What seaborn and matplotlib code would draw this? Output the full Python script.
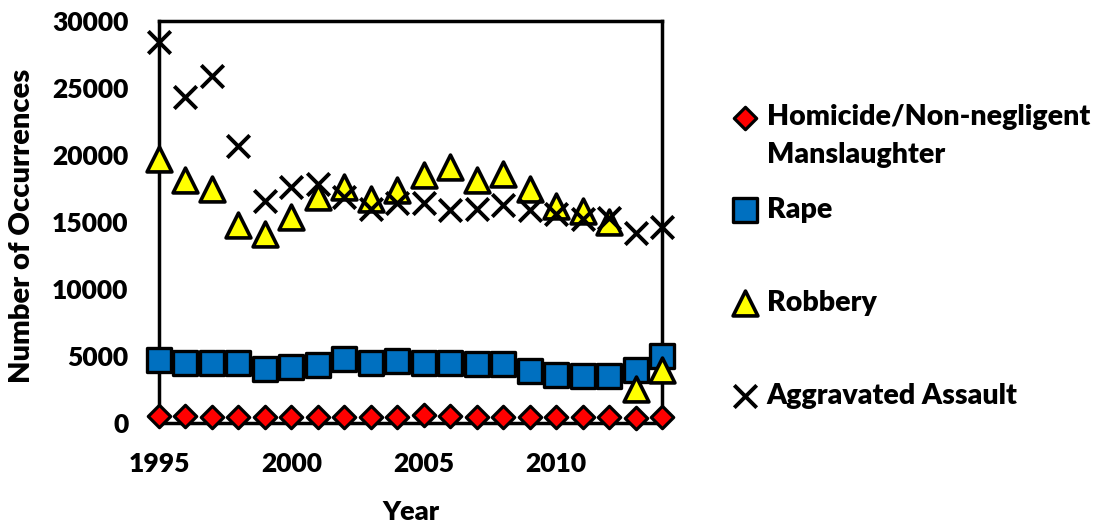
import numpy as np
import pandas as pd
import matplotlib
matplotlib.use("Agg")
import matplotlib.pyplot as plt
import seaborn as sns

years = list(range(1995, 2015))
homicide = [550, 500, 480, 450, 430, 440, 460, 480, 470, 480, 560, 500, 480, 470, 450, 440, 430, 420, 400, 420]
rape = [4700, 4500, 4500, 4500, 4000, 4150, 4350, 4750, 4500, 4600, 4500, 4500, 4400, 4400, 3850, 3550, 3500, 3500, 3950, 5000]
robbery = [19700, 18100, 17500, 14800, 14100, 15400, 16900, 17600, 16700, 17400, 18500, 19100, 18100, 18600, 17500, 16200, 15800, 15000, 2550, 3950]
assault = [28400, 24300, 25900, 20700, 16600, 17600, 17800, 16900, 16000, 16400, 16400, 15900, 16000, 16300, 15900, 15600, 15200, 15300, 14200, 14600]

label_first = "Homicide/Non-negligent"
label_second = "Manslaughter"
labels = [label_first, "Rape", "Robbery", "Aggravated Assault"]

sns.set_theme(style="white")
plt.rcParams['font.family'] = ['Lato', 'DejaVu Sans']
plt.rcParams['text.color'] = 'black'
plt.rcParams['axes.labelcolor'] = 'black'
plt.rcParams['xtick.color'] = 'black'
plt.rcParams['ytick.color'] = 'black'
W = 800
FS = 19
LFS = 20.5

fig = plt.figure(figsize=(10.97, 5.25), dpi=100)
ax = fig.add_axes([159 / 1097, 1 - 423 / 525, 503 / 1097, 402 / 525])

sns.scatterplot(x=years, y=homicide, ax=ax, marker="D", s=130, color="#ff0000",
                edgecolor="black", linewidth=2.3, label=labels[0], zorder=3, clip_on=False)
sns.scatterplot(x=years, y=rape, ax=ax, marker="s", s=290, color="#0070c0",
                edgecolor="black", linewidth=2.4, label=labels[1], zorder=3, clip_on=False)
sns.scatterplot(x=years, y=robbery, ax=ax, marker="^", s=320, color="#ffff00",
                edgecolor="black", linewidth=2.6, label=labels[2], zorder=4, clip_on=False)
sns.scatterplot(x=years, y=assault, ax=ax, marker="x", s=260, color="black",
                linewidth=2.8, label=labels[3], zorder=5, clip_on=False)

ax.set_xlim(1995, 2014)
ax.set_ylim(0, 30000)
ax.set_xticks([1995, 2000, 2005, 2010])
ax.set_yticks(range(0, 30001, 5000))
for s in ax.spines.values():
    s.set_linewidth(2.5)
    s.set_color("black")
ax.tick_params(axis="both", direction="in", length=7.5, width=2.5, labelsize=FS,
               color="black", labelcolor="black")
ax.tick_params(axis="x", pad=21)
ax.tick_params(axis="y", pad=22)
for t in ax.get_xticklabels() + ax.get_yticklabels():
    t.set_fontweight(W)
ax.set_xlabel("Year", fontsize=FS + 0.5, fontweight=W)
ax.set_ylabel("Number of Occurrences", fontsize=21, fontweight=W)
ax.xaxis.set_label_coords(0.5, -0.222)
ax.xaxis.label.set_va("center")
ax.yaxis.set_label_coords(-0.272, 0.49)
ax.yaxis.label.set_va("center")

leg = ax.legend(loc="upper left", bbox_to_anchor=(731 / 1097, 1 - 104 / 525),
                bbox_transform=fig.transFigure, frameon=False,
                prop={"size": LFS, "weight": W}, labelspacing=2.35,
                handlelength=1.0, handletextpad=0.25, borderpad=0, borderaxespad=0)
for t in leg.get_texts():
    t.set_color("black")

fig.canvas.draw()
bb = leg.get_texts()[0].get_window_extent()
fig.text(bb.x0 / fig.bbox.width, (bb.y0 - 38) / fig.bbox.height, label_second,
         fontsize=LFS, fontweight=W, va="bottom", ha="left", color="black")

fig.savefig("out.png", dpi=100)
